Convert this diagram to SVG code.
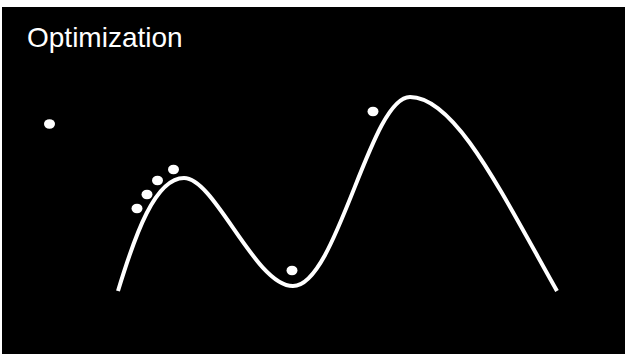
<svg xmlns="http://www.w3.org/2000/svg" width="625" height="354" viewBox="0 0 625 354">
<style>
.dot{fill:#fff}
.curve{fill:none;stroke:#fff;stroke-width:4}
.title{font-family:"Liberation Sans",Arial,sans-serif;font-size:28px;fill:#fff}
</style>
<rect x="0" y="0" width="625" height="354" fill="#fff"/>
<rect x="2" y="7" width="623" height="347" fill="#000"/>
<text class="title" x="27" y="47">Optimization</text>
<g id="curve">
<path class="curve" d="M118,291 C135,235 155,178 184,178 C215,178 255,286 293,286 C337,286 370,97 410,97 C455,97 500,190 557,291"/>
</g>
<g id="points">
<ellipse class="dot" cx="49.5" cy="124" rx="5.5" ry="4.8"/>
<ellipse class="dot" cx="137" cy="208.5" rx="5.5" ry="4.8"/>
<ellipse class="dot" cx="147" cy="194.5" rx="5.5" ry="4.8"/>
<ellipse class="dot" cx="157.5" cy="180.5" rx="5.5" ry="4.8"/>
<ellipse class="dot" cx="173.5" cy="169.5" rx="5.5" ry="4.8"/>
<ellipse class="dot" cx="292" cy="270.5" rx="5.5" ry="4.8"/>
<ellipse class="dot" cx="373" cy="111.5" rx="5.5" ry="4.8"/>
</g>
</svg>
